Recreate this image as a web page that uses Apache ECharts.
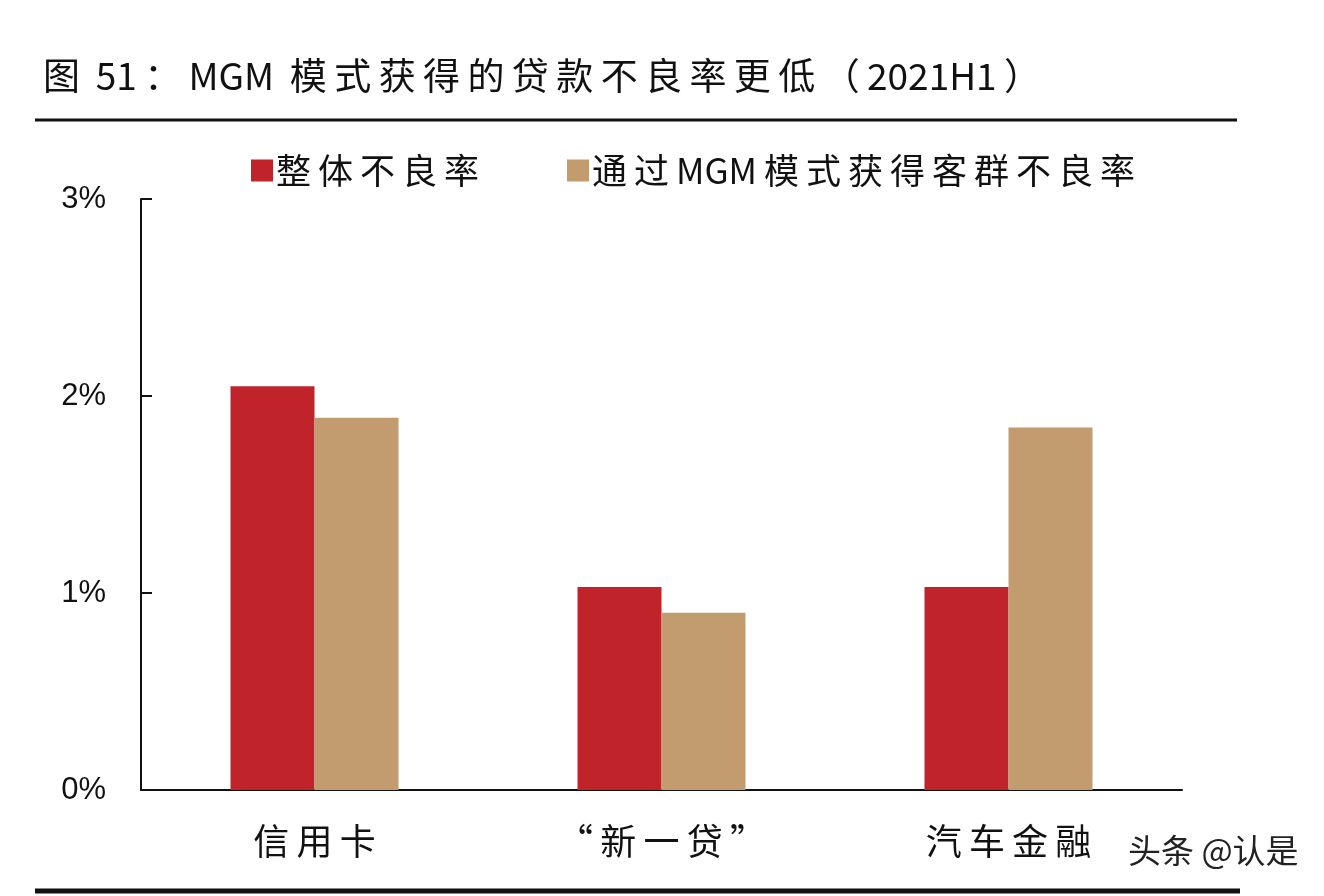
<!DOCTYPE html>
<html><head><meta charset="utf-8">
<script src="https://cdn.jsdelivr.net/npm/echarts@6/dist/echarts.min.js"></script>
<style>html,body{margin:0;padding:0;background:#fff;}#c{width:1324px;height:896px;}</style>
</head><body><div id="c"></div>
<script>
const categories = ['信用卡', '“新一贷”', '汽车金融'];
const overallNPL = [2.05, 1.03, 1.03];
const mgmNPL = [1.89, 0.90, 1.84];
const yTicks = [0, 1, 2, 3];
const seriesNames = ['整体不良率', '通过MGM模式获得客群不良率'];
const titleText = '图 51：MGM 模式获得的贷款不良率更低（2021H1）';
const watermark = '头条 @认是';

// widen spacing between CJK glyphs (thin space), keep ASCII runs tight
function spaced(s) {
  let out = '';
  for (let i = 0; i < s.length; i++) {
    out += s[i];
    const a = s[i], b = s[i + 1];
    if (b === undefined) break;
    const asciiA = /[A-Za-z0-9 ]/.test(a), asciiB = /[A-Za-z0-9 ]/.test(b);
    if (!(asciiA && asciiB)) out += '\u2009';
  }
  return out;
}

const chart = echarts.init(document.getElementById('c'), null, {renderer: 'canvas'});
const cjk = '"Noto Sans CJK SC", sans-serif';
chart.setOption({
  backgroundColor: '#ffffff',
  animation: false,
  title: {
    text: spaced(titleText),
    left: 38, top: 52,
    textStyle: {fontFamily: cjk, fontSize: 37, fontWeight: 'normal', color: '#111'}
  },
  legend: {
    top: 148, left: 246,
    itemWidth: 22, itemHeight: 22, itemGap: 88,
    icon: 'rect',
    textStyle: {fontFamily: cjk, fontSize: 35, color: '#111', padding: [0, 0, 0, -2]},
    formatter: n => spaced(n),
    data: seriesNames
  },
  graphic: [
    {type: 'line', shape: {x1: 35, y1: 120, x2: 1237, y2: 120}, style: {stroke: '#111', lineWidth: 3}},
    {type: 'line', shape: {x1: 35, y1: 891, x2: 1240, y2: 891}, style: {stroke: '#111', lineWidth: 5}},
    {type: 'text', left: 1128, top: 834, style: {text: watermark, font: '33px "Noto Sans CJK SC"', fill: '#222'}}
  ],
  grid: {left: 141, width: 1041, top: 199, height: 591, containLabel: false},
  xAxis: {
    type: 'category', data: categories,
    axisLine: {lineStyle: {color: '#111', width: 2}},
    axisTick: {show: false},
    axisLabel: {fontFamily: cjk, fontSize: 36, color: '#111', margin: 33, formatter: v => spaced(v)}
  },
  yAxis: {
    type: 'value', min: 0, max: 3, interval: 1,
    axisLine: {show: true, lineStyle: {color: '#111', width: 2}},
    axisTick: {show: true, inside: true, length: 11, lineStyle: {color: '#111', width: 2}},
    splitLine: {show: false},
    axisLabel: {fontFamily: 'Arial, "Liberation Sans", sans-serif', fontSize: 31, color: '#111', margin: 35,
      formatter: v => yTicks.includes(v) ? v + '%' : ''}
  },
  series: [
    {name: seriesNames[0], type: 'bar', data: overallNPL, barWidth: 84, barGap: '0%',
     itemStyle: {color: '#C0232A'}},
    {name: seriesNames[1], type: 'bar', data: mgmNPL, barWidth: 84, barGap: '0%',
     itemStyle: {color: '#C29B6F'}}
  ]
});
</script></body></html>
